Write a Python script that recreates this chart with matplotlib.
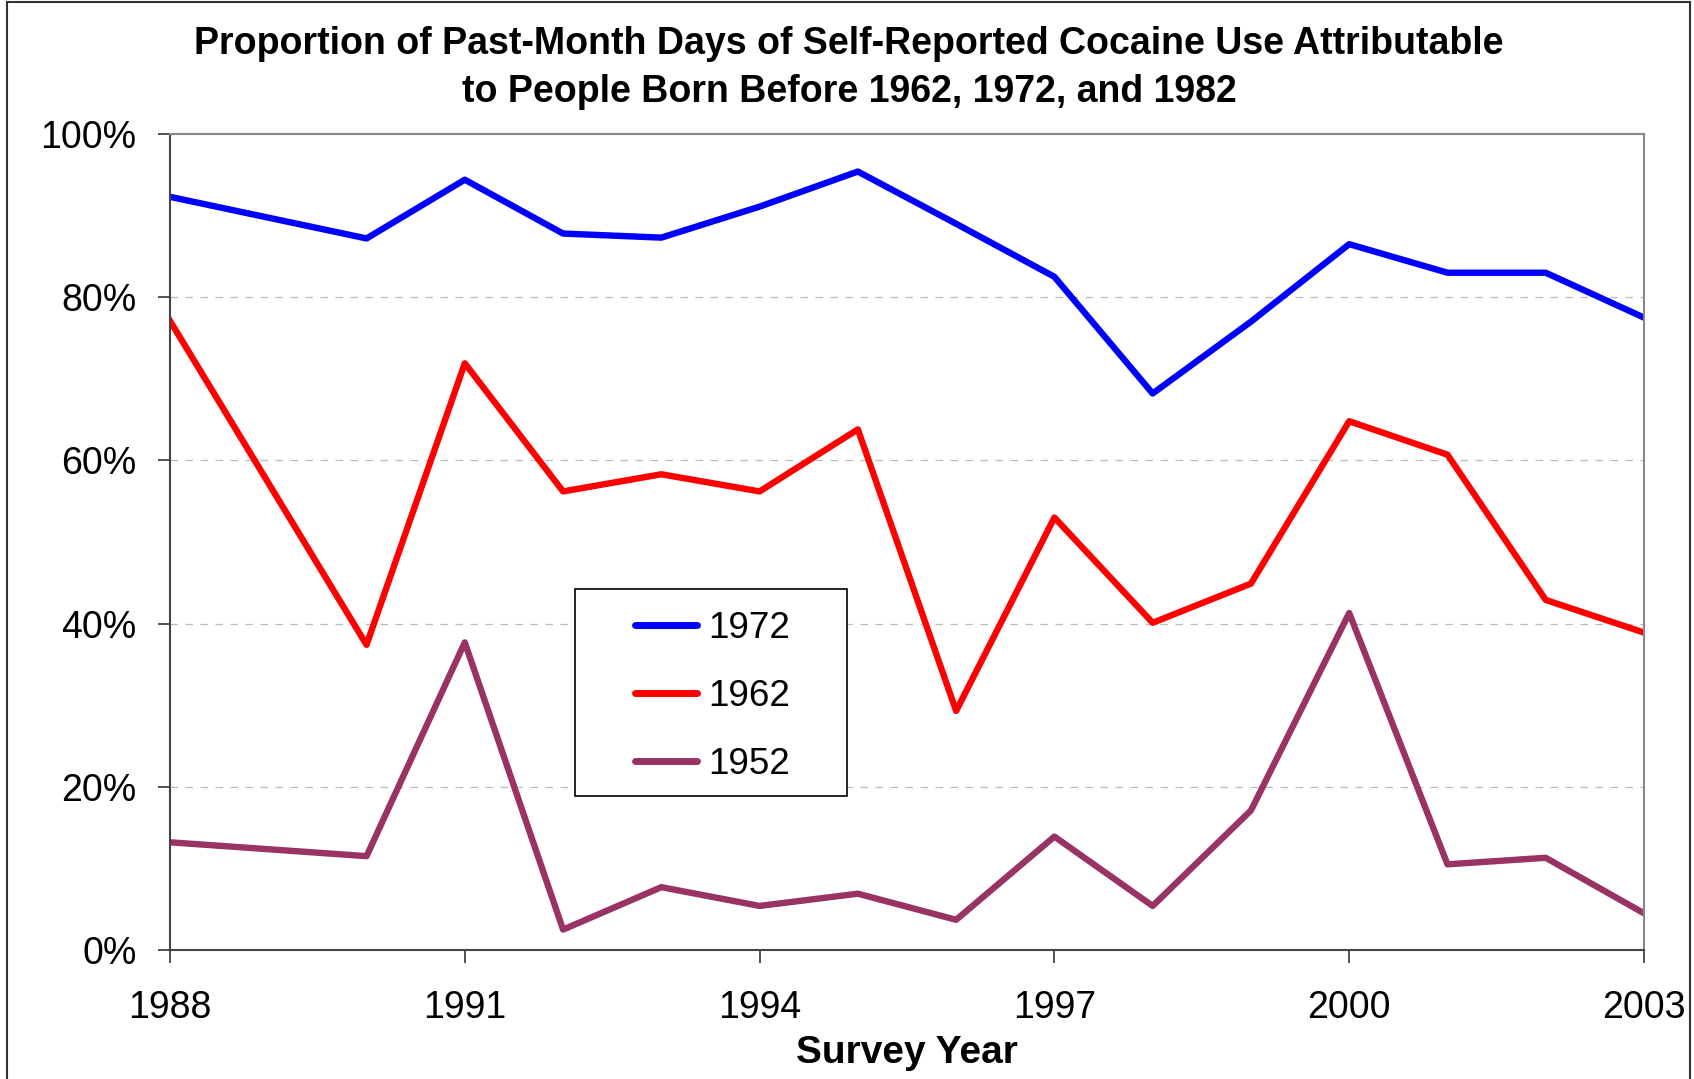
import matplotlib
matplotlib.use('Agg')
from matplotlib import pyplot as plt
from matplotlib.ticker import FuncFormatter
from matplotlib.lines import Line2D
from matplotlib.patches import Rectangle

plt.rcParams['font.family'] = ['Liberation Sans', 'DejaVu Sans']

# survey years (no 1989 survey)
years = [1988, 1990, 1991, 1992, 1993, 1994, 1995, 1996, 1997, 1998, 1999, 2000, 2001, 2002, 2003]
born_1972 = [92.3, 87.2, 94.4, 87.8, 87.3, 91.1, 95.4, 89.0, 82.5, 68.2, 77.0, 86.5, 83.0, 83.0, 77.5]
born_1962 = [77.1, 37.4, 71.9, 56.2, 58.3, 56.2, 63.8, 29.3, 53.0, 40.1, 44.9, 64.8, 60.7, 42.9, 38.9]
born_1952 = [13.2, 11.5, 37.7, 2.5, 7.7, 5.4, 6.9, 3.7, 13.9, 5.4, 17.1, 41.3, 10.5, 11.3, 4.5]
xticks = [1988, 1991, 1994, 1997, 2000, 2003]
yticks = [0, 20, 40, 60, 80, 100]

fig = plt.figure(figsize=(16.94, 10.79), dpi=100)
ax = fig.add_axes([170/1694, 1 - 950/1079, 1474/1694, 816/1079])

ax.plot(years, born_1972, color='#0000FF', linewidth=4.6, label='1972')
ax.plot(years, born_1962, color='#FF0000', linewidth=4.6, label='1962')
ax.plot(years, born_1952, color='#993366', linewidth=4.6, label='1952')

ax.set_xlim(1988, 2003)
ax.set_ylim(0, 100)
ax.set_xticks(xticks)
ax.set_yticks(yticks)
ax.yaxis.set_major_formatter(FuncFormatter(lambda v, p: '%d%%' % v))
ax.tick_params(axis='both', labelsize=27, direction='out', length=9, width=1.2, color='#333333')
ax.tick_params(axis='x', pad=20)
ax.tick_params(axis='y', pad=15)

for y in [20, 40, 60, 80]:
    ax.axhline(y, color='#BBBBBB', linewidth=0.9, linestyle=(0, (6, 6)), zorder=0)

ax.spines['top'].set_color('#888888')
ax.spines['right'].set_color('#888888')
ax.spines['left'].set_color('#444444')
ax.spines['bottom'].set_color('#444444')
for s in ax.spines.values():
    s.set_linewidth(1.5)

ax.set_xlabel('Survey Year', fontsize=28, fontweight='bold', labelpad=6)
fig.text(0.5 + 2/1694, 1 - 68/1079,
         'Proportion of Past-Month Days of Self-Reported Cocaine Use Attributable\nto People Born Before 1962, 1972, and 1982',
         ha='center', va='center', fontsize=27, fontweight='bold', linespacing=1.42)

# legend box
ax.add_patch(Rectangle((0.275, 0.189), 0.184, 0.253, transform=ax.transAxes,
                       facecolor='white', edgecolor='black', linewidth=1.2, zorder=4))
leg = ax.legend(loc='center', bbox_to_anchor=(0.368, 0.311), frameon=False,
                fontsize=26.5, handlelength=1.7, labelspacing=0.9, handletextpad=0.3,
                borderaxespad=0)
leg.set_zorder(5)
for h in leg.get_lines():
    h.set_linewidth(5)
    h.set_solid_capstyle('round')

# outer chart frame
fig.add_artist(Line2D([7/1694, 7/1694], [0, 1 - 2/1079], color='#333333', linewidth=1.5))
fig.add_artist(Line2D([7/1694, 1690/1694], [1 - 2/1079, 1 - 2/1079], color='#333333', linewidth=1.5))
fig.add_artist(Line2D([1690/1694, 1690/1694], [0, 1 - 2/1079], color='#333333', linewidth=1.5))

fig.savefig('out.png', dpi=100)
